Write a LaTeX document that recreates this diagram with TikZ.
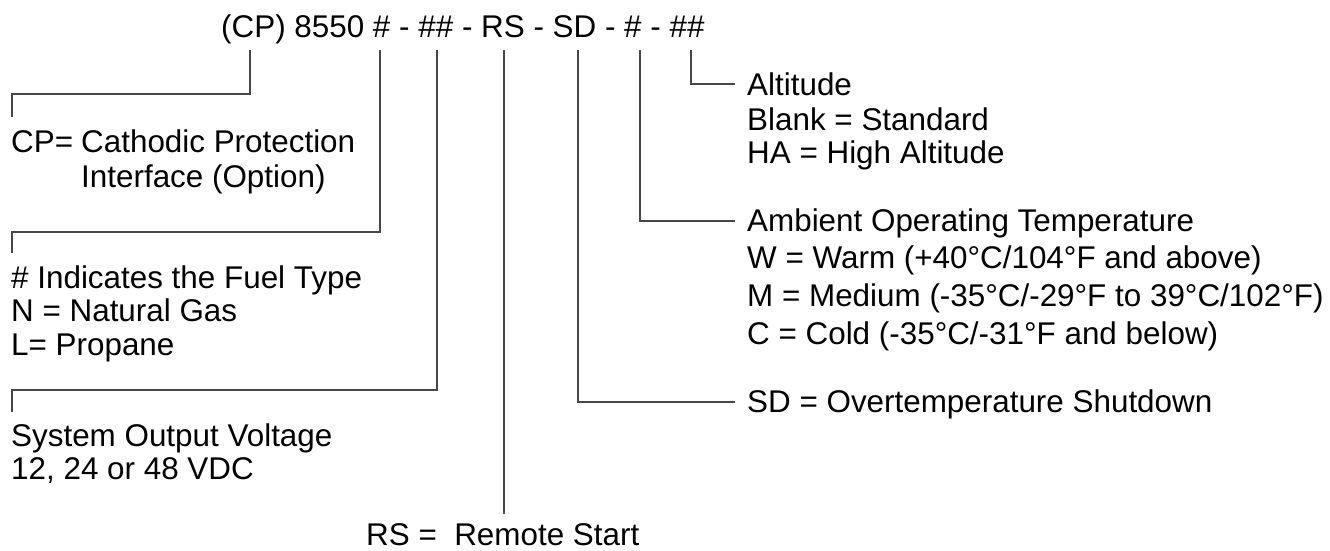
\documentclass[tikz,border=0pt]{standalone}
\usepackage{fontspec}
\setmainfont{Liberation Sans}
\begin{document}
\begin{tikzpicture}[x=1pt,y=-1pt,
  lbl/.style={anchor=base west, inner sep=0pt, font=\fontsize{31.4}{34}\selectfont},
  conn/.style={draw=black!72, line width=1.4pt, line cap=butt, line join=miter}]
\useasboundingbox (0,0) rectangle (1330,550);
% model code
\node[lbl] (code) at (221,37) {(CP) 8550 \# - \#\# - RS - SD - \# - \#\#};
% left labels
\node[lbl] (cpA) at (11,152) {CP=};
\node[lbl] (cpB) at (81,152) {Cathodic Protection};
\node[lbl] (cpC) at (81,187) {Interface (Option)};
\node[lbl] (fuA) at (11,288) {\# Indicates the Fuel Type};
\node[lbl] (fuB) at (11,321) {N = Natural Gas};
\node[lbl] (fuC) at (11,355) {L= Propane};
\node[lbl] (voA) at (11,446) {System Output Voltage};
\node[lbl] (voB) at (11,479) {12, 24 or 48 VDC};
\node[lbl] (rs) at (366,545) {RS =\ \ Remote Start};
% right labels
\node[lbl] (alA) at (747,95) {Altitude};
\node[lbl] (alB) at (747,130) {Blank = Standard};
\node[lbl] (alC) at (747,163) {HA = High Altitude};
\node[lbl] (amA) at (747,231) {Ambient Operating Temperature};
\node[lbl] (amB) at (747,268) {W = Warm (+40°C/104°F and above)};
\node[lbl] (amC) at (747,306) {M = Medium (-35°C/-29°F to 39°C/102°F)};
\node[lbl] (amD) at (747,344) {C = Cold (-35°C/-31°F and below)};
\node[lbl] (sd) at (747,412) {SD = Overtemperature Shutdown};
% tick tops under the code
\coordinate (tCP) at (250,50);
\coordinate (tF) at (380,50);
\coordinate (tV) at (437,50);
\coordinate (tRS) at (504,50);
\coordinate (tSD) at (578,50);
\coordinate (tT) at (640,50);
\coordinate (tA) at (691,50);
% ends
\coordinate (eCP) at (12,117);
\coordinate (eF) at (12,253);
\coordinate (eV) at (12,412);
\coordinate (eRS) at (504,514);
\coordinate (eSD) at (735,402);
\coordinate (eT) at (735,221);
\coordinate (eA) at (735,84);
% connectors
\draw[conn] (tCP) -- (250,94) -- (12,94) -- (eCP);
\draw[conn] (tF) -- (380,232) -- (12,232) -- (eF);
\draw[conn] (tV) -- (437,390) -- (12,390) -- (eV);
\draw[conn] (tRS) -- (eRS);
\draw[conn] (tSD) |- (eSD);
\draw[conn] (tT) |- (eT);
\draw[conn] (tA) |- (eA);
\end{tikzpicture}
\end{document}
